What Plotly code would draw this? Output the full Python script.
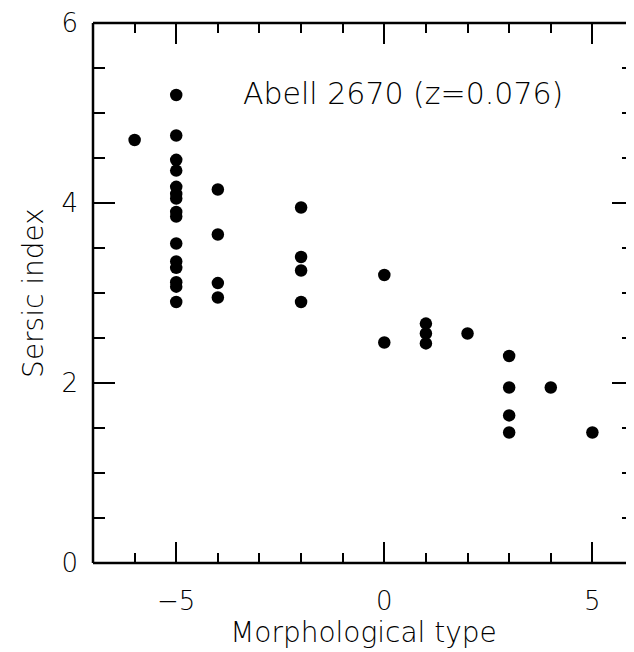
import plotly.graph_objects as go

# Morphological type (x) and Sersic index (y) per galaxy
morph_type = (
    [-6]
    + [-5] * 15
    + [-4] * 4
    + [-2] * 4
    + [0] * 2
    + [1] * 3
    + [2]
    + [3] * 4
    + [4]
    + [5]
)
sersic_n = (
    [4.70]
    + [5.20, 4.75, 4.48, 4.36, 4.18, 4.10, 4.05, 3.90, 3.85, 3.55, 3.35, 3.28, 3.12, 3.07, 2.90]
    + [4.15, 3.65, 3.11, 2.95]
    + [3.95, 3.40, 3.25, 2.90]
    + [3.20, 2.45]
    + [2.66, 2.55, 2.44]
    + [2.55]
    + [2.30, 1.95, 1.64, 1.45]
    + [1.95]
    + [1.45]
)

x_ticks = [-5, 0, 5]
y_ticks = [0, 2, 4, 6]
label_text = "Abell 2670 (z=0.076)"

FONT = "DejaVu Sans"

fig = go.Figure()
fig.add_trace(go.Scatter(
    x=morph_type, y=sersic_n, mode="markers",
    marker=dict(color="black", size=12.5, line=dict(width=0)),
    showlegend=False,
))

axis_common = dict(
    showgrid=False, zeroline=False,
    showline=False, mirror="allticks",
    ticks="inside", tickcolor="black", tickwidth=1.5,
    tickfont=dict(family=FONT, size=26, color="black", weight=200),
)

fig.update_xaxes(
    range=[-7, 6], tickvals=x_ticks, ticklen=21,
    minor=dict(dtick=1, ticks="inside", ticklen=10, tickcolor="black", tickwidth=1.5),
    ticklabelstandoff=20,
    title=dict(text="Morphological type", font=dict(family=FONT, size=28, color="black", weight=200), standoff=5),
    **axis_common,
)
fig.update_yaxes(
    range=[0, 6], tickvals=y_ticks, ticklen=22,
    minor=dict(dtick=0.5, ticks="inside", ticklen=12, tickcolor="black", tickwidth=1.5),
    ticklabelstandoff=14,
    title=dict(text="Sersic index", font=dict(family=FONT, size=28, color="black", weight=200), standoff=9),
    **axis_common,
)

# frame: left, bottom, top (the right side falls at the page edge)
frame = [
    dict(x0=0, x1=0, y0=0, y1=1),
    dict(x0=0, x1=1, y0=0, y1=0),
    dict(x0=0, x1=1, y0=1, y1=1),
]
for f in frame:
    fig.add_shape(type="line", xref="paper", yref="paper", line=dict(color="black", width=2.5), **f)

fig.add_annotation(
    x=0.46, y=5.22, xref="x", yref="y", text=label_text, showarrow=False,
    font=dict(family=FONT, size=30, color="black", weight=200),
)

fig.update_layout(
    width=626, height=644,
    margin=dict(l=85, r=0, t=15, b=89),
    paper_bgcolor="white", plot_bgcolor="white",
)

fig.write_html("out.html")
